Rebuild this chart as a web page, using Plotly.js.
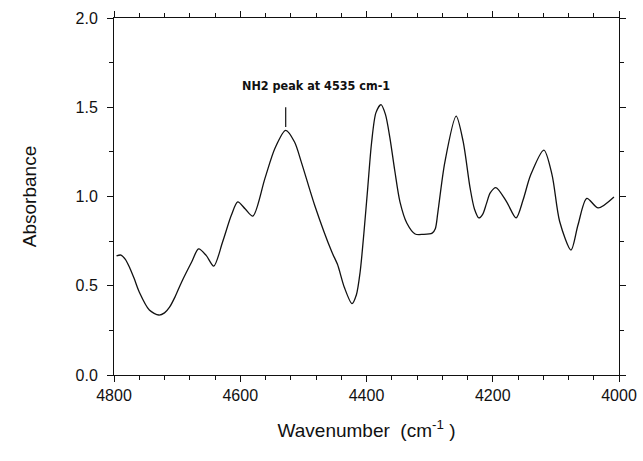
<!DOCTYPE html>
<html>
<head>
<meta charset="utf-8">
<script src="https://cdn.plot.ly/plotly-3.0.1.min.js"></script>
<style>html,body{margin:0;padding:0;background:#fff;}#chart{width:643px;height:461px;}</style>
</head>
<body>
<div id="chart"></div>
<script>
const wavenumber = [4796, 4789, 4782, 4775, 4768, 4760, 4744, 4729, 4720, 4712, 4703, 4693, 4677, 4666, 4654, 4642, 4628, 4614, 4604, 4592, 4580, 4561, 4545, 4528, 4514, 4503, 4482, 4455, 4446, 4435, 4423, 4416, 4410, 4404, 4398, 4392, 4385, 4377, 4370, 4363, 4355, 4347, 4336, 4323, 4310, 4296, 4291, 4287, 4276, 4258, 4247, 4236, 4229, 4222, 4216, 4210, 4204, 4195, 4178, 4163, 4152, 4140, 4119, 4106, 4094, 4076, 4065, 4051, 4033, 4008];
const absorbance = [0.667, 0.672, 0.648, 0.60, 0.54, 0.465, 0.364, 0.336, 0.348, 0.38, 0.44, 0.52, 0.633, 0.706, 0.67, 0.61, 0.745, 0.896, 0.97, 0.93, 0.89, 1.10, 1.27, 1.37, 1.305, 1.19, 0.95, 0.69, 0.62, 0.49, 0.40, 0.45, 0.58, 0.80, 1.05, 1.30, 1.47, 1.515, 1.46, 1.33, 1.14, 0.97, 0.85, 0.79, 0.788, 0.795, 0.82, 0.91, 1.19, 1.45, 1.31, 1.05, 0.93, 0.88, 0.90, 0.96, 1.02, 1.05, 0.97, 0.88, 0.98, 1.12, 1.26, 1.12, 0.86, 0.70, 0.84, 0.99, 0.936, 0.997];
const xTickVals = [4800, 4600, 4400, 4200, 4000];
const xTickText = ['4800', '4600', '4400', '4200', '4000'];
const yTickVals = [0, 0.5, 1.0, 1.5, 2.0];
const yTickText = ['0.0', '0.5', '1.0', '1.5', '2.0'];
const annotationText = 'NH2 peak at 4535 cm-1';
const peakMarkX = 4528;

const trace = {
  x: wavenumber, y: absorbance, type: 'scatter', mode: 'lines',
  line: {color: '#111', width: 1.3, shape: 'spline', smoothing: 0.8},
  hoverinfo: 'skip'
};
const axisFont = {family: 'Liberation Sans, Arial, sans-serif', size: 16, color: '#111'};
const layout = {
  width: 643, height: 461,
  margin: {l: 114, r: 24, t: 18, b: 86},
  paper_bgcolor: '#fff', plot_bgcolor: '#fff',
  showlegend: false,
  xaxis: {
    range: [4800, 4000], showgrid: false, zeroline: false,
    showline: true, linecolor: '#111', linewidth: 1, mirror: 'allticks',
    ticks: 'outside', ticklen: 6, tickwidth: 1, tickcolor: '#111',
    tickvals: xTickVals, ticktext: xTickText, tickfont: axisFont,
    minor: {dtick: 40, ticks: 'outside', ticklen: 4, tickwidth: 1, tickcolor: '#111', showgrid: false},
    title: {text: 'Wavenumber  (cm<sup>-1</sup> )', font: {family: 'Liberation Sans, Arial, sans-serif', size: 19, color: '#111'}, standoff: 20}
  },
  yaxis: {
    range: [0, 2.0], showgrid: false, zeroline: false,
    showline: true, linecolor: '#111', linewidth: 1, mirror: 'allticks',
    ticks: 'outside', ticklen: 6, tickwidth: 1, tickcolor: '#111',
    tickvals: yTickVals, ticktext: yTickText, tickfont: axisFont,
    ticklabelstandoff: 6,
    minor: {dtick: 0.25, ticks: 'outside', ticklen: 4, tickwidth: 1, tickcolor: '#111', showgrid: false},
    title: {text: 'Absorbance', font: {family: 'Liberation Sans, Arial, sans-serif', size: 19, color: '#111'}, standoff: 33}
  },
  shapes: [{type: 'line', xref: 'x', yref: 'y', x0: peakMarkX, x1: peakMarkX, y0: 1.39, y1: 1.50, line: {color: '#111', width: 1.2}}],
  annotations: [{x: 4480, y: 1.62, xref: 'x', yref: 'y', text: annotationText, showarrow: false,
    font: {family: 'DejaVu Sans Condensed, DejaVu Sans, sans-serif', size: 12.5, color: '#111', weight: 'bold'}}]
};
Plotly.newPlot('chart', [trace], layout, {displayModeBar: false, staticPlot: true});
</script>
</body>
</html>
